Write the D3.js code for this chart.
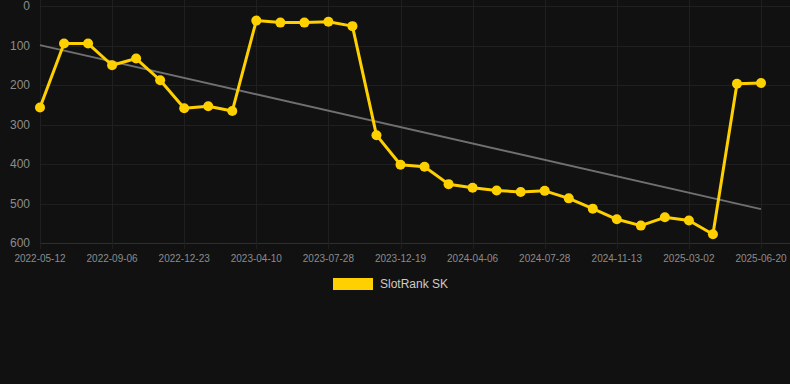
<!DOCTYPE html>
<html>
<head>
<meta charset="utf-8">
<script src="https://cdn.jsdelivr.net/npm/d3@7"></script>
<style>
  html, body { margin: 0; padding: 0; background: #111111; }
  svg { display: block; font-family: "Liberation Sans", Arial, sans-serif; }
</style>
</head>
<body>
<div id="chart"></div>
<script>
// dates of each sample (only every third one is labelled on the axis)
const dates = [
    '2022-05-12', '2022-06-20', '2022-07-29', '2022-09-06', '2022-10-12', '2022-11-17',
    '2022-12-23', '2023-01-28', '2023-03-05', '2023-04-10', '2023-05-16', '2023-06-21',
    '2023-07-28', '2023-09-15', '2023-11-02', '2023-12-19', '2024-01-24', '2024-02-29',
    '2024-04-06', '2024-05-13', '2024-06-20', '2024-07-28', '2024-09-03', '2024-10-08',
    '2024-11-13', '2024-12-19', '2025-01-24', '2025-03-02', '2025-04-08', '2025-05-14',
    '2025-06-20'
];
const ranks = [
    257, 95, 95, 150, 133, 188, 259, 254, 266, 37, 42, 42,
    40, 51, 327, 402, 407, 451, 460, 467, 471, 468, 487, 513,
    540, 556, 535, 543, 578, 197, 195
];
const yTicks = [0, 100, 200, 300, 400, 500, 600];
const seriesName = 'SlotRank SK';

const width = 790;
const height = 384;
const plotLeft = 40;
const plotRight = 761;
const plotTop = 6;
const plotBottom = 243;
const yellow = '#ffd000';

const svg = d3.select('#chart')
    .append('svg')
    .attr('width', width)
    .attr('height', height);

svg.append('rect')
    .attr('width', width)
    .attr('height', height)
    .attr('fill', '#111111');

const x = d3.scalePoint()
    .domain(dates)
    .range([plotLeft, plotRight]);

const y = d3.scaleLinear()
    .domain([0, 600])
    .range([plotTop, plotBottom]);

const labelled = dates.filter((d, i) => i % 3 === 0);

// grid
svg.append('g')
    .selectAll('line')
    .data(yTicks)
    .enter()
    .append('line')
    .attr('x1', plotLeft)
    .attr('x2', width)
    .attr('y1', d => Math.round(y(d)) + 0.5)
    .attr('y2', d => Math.round(y(d)) + 0.5)
    .attr('stroke', d => d === 600 ? '#2e2e2e' : '#1f1f1f')
    .attr('stroke-width', 1);

svg.append('g')
    .selectAll('line')
    .data(labelled)
    .enter()
    .append('line')
    .attr('x1', d => Math.round(x(d)) + 0.5)
    .attr('x2', d => Math.round(x(d)) + 0.5)
    .attr('y1', 0)
    .attr('y2', plotBottom + 6)
    .attr('stroke', '#1f1f1f')
    .attr('stroke-width', 1);

// axis labels
svg.append('g')
    .selectAll('text')
    .data(yTicks)
    .enter()
    .append('text')
    .attr('x', 30)
    .attr('y', d => y(d))
    .attr('dy', '0.35em')
    .attr('text-anchor', 'end')
    .attr('fill', '#8c8c8c')
    .attr('font-size', 12)
    .text(d => d);

svg.append('g')
    .selectAll('text')
    .data(labelled)
    .enter()
    .append('text')
    .attr('x', d => x(d))
    .attr('y', 262)
    .attr('text-anchor', 'middle')
    .attr('fill', '#8c8c8c')
    .attr('font-size', 10)
    .text(d => d);

// linear trend from the data
const idx = ranks.map((d, i) => i);
const mx = d3.mean(idx);
const my = d3.mean(ranks);
const slope = d3.sum(idx, i => (i - mx) * (ranks[i] - my)) / d3.sum(idx, i => (i - mx) * (i - mx));
const icpt = my - slope * mx;

svg.append('line')
    .attr('x1', x(dates[0]))
    .attr('y1', y(icpt))
    .attr('x2', x(dates[dates.length - 1]))
    .attr('y2', y(icpt + slope * (dates.length - 1)))
    .attr('stroke', '#707070')
    .attr('stroke-width', 2);

// series
const line = d3.line()
    .x((d, i) => x(dates[i]))
    .y(d => y(d));

svg.append('path')
    .datum(ranks)
    .attr('d', line)
    .attr('fill', 'none')
    .attr('stroke', yellow)
    .attr('stroke-width', 3)
    .attr('stroke-linejoin', 'round');

svg.append('g')
    .selectAll('circle')
    .data(ranks)
    .enter()
    .append('circle')
    .attr('cx', (d, i) => x(dates[i]))
    .attr('cy', d => y(d))
    .attr('r', 5)
    .attr('fill', yellow);

// legend
svg.append('rect')
    .attr('x', 333)
    .attr('y', 278)
    .attr('width', 40)
    .attr('height', 12)
    .attr('fill', yellow);

svg.append('text')
    .attr('x', 380)
    .attr('y', 284)
    .attr('dy', '0.35em')
    .attr('fill', '#cccccc')
    .attr('font-size', 12)
    .text(seriesName);
</script>
</body>
</html>
